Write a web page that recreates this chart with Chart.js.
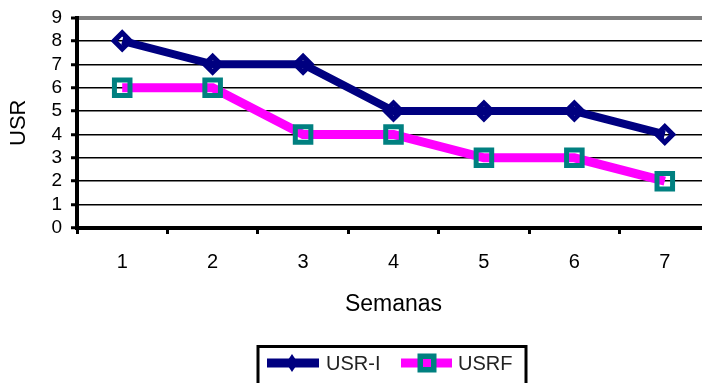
<!DOCTYPE html>
<html>
<head>
<meta charset="utf-8">
<script src="https://cdn.jsdelivr.net/npm/chart.js@4/dist/chart.umd.min.js"></script>
<style>
  html, body { margin: 0; padding: 0; background: #fff; overflow: hidden; }
  #wrap { width: 712px; height: 383px; }
</style>
</head>
<body>
<div id="wrap"><canvas id="chart" width="712" height="383"></canvas></div>
<script>
// Weekly USR values
const semanas = ['1', '2', '3', '4', '5', '6', '7'];
const usrInicial = [8, 7, 7, 5, 5, 5, 4];
const usrFinal = [6, 6, 4, 4, 3, 3, 2];
const yTicks = [0, 1, 2, 3, 4, 5, 6, 7, 8, 9];

const NAVY = '#000080';
const MAGENTA = '#FF00FF';
const TEAL = '#008080';
const FONT = '"Liberation Sans", Arial, sans-serif';

// Boxed legend under the axis title
const boxedLegend = {
  id: 'boxedLegend',
  afterDraw(chart) {
    const ctx = chart.ctx;
    ctx.save();
    ctx.strokeStyle = '#000';
    ctx.lineWidth = 3;
    ctx.strokeRect(258, 346.5, 268, 60);

    const cy = 363;
    // USR-I sample
    ctx.strokeStyle = NAVY;
    ctx.lineWidth = 9;
    ctx.beginPath(); ctx.moveTo(267, cy); ctx.lineTo(319, cy); ctx.stroke();
    ctx.fillStyle = NAVY;
    ctx.beginPath();
    ctx.moveTo(292, cy - 9); ctx.lineTo(298, cy); ctx.lineTo(292, cy + 9); ctx.lineTo(286, cy);
    ctx.closePath(); ctx.fill();

    // USRF sample
    ctx.strokeStyle = MAGENTA;
    ctx.lineWidth = 9;
    ctx.beginPath(); ctx.moveTo(401, cy); ctx.lineTo(452, cy); ctx.stroke();
    ctx.fillStyle = TEAL;
    ctx.fillRect(417.5, cy - 9.5, 19, 19);
    ctx.fillStyle = MAGENTA;
    ctx.fillRect(423, cy - 4, 8, 8);

    ctx.fillStyle = '#222';
    ctx.font = '20px ' + FONT;
    ctx.textBaseline = 'middle';
    ctx.textAlign = 'left';
    ctx.fillText(chart.data.datasets[0].label, 326, cy + 1);
    ctx.fillText(chart.data.datasets[1].label, 458, cy + 1);
    ctx.restore();
  }
};

new Chart(document.getElementById('chart'), {
  type: 'line',
  data: {
    labels: semanas,
    datasets: [
      {
        label: 'USR-I',
        data: usrInicial,
        borderColor: NAVY,
        borderWidth: 8,
        pointStyle: 'rectRot',
        pointRadius: 8,
        pointBorderWidth: 5,
        pointBorderColor: NAVY,
        pointBackgroundColor: 'rgba(0,0,0,0)',
        tension: 0
      },
      {
        label: 'USRF',
        data: usrFinal,
        borderColor: MAGENTA,
        borderWidth: 9,
        pointStyle: 'rect',
        pointRadius: 11,
        pointBorderWidth: 5,
        pointBorderColor: TEAL,
        pointBackgroundColor: 'rgba(0,0,0,0)',
        tension: 0
      }
    ]
  },
  options: {
    responsive: false,
    animation: false,
    events: [],
    // the canvas is a little wider than the page, so the plot frame runs past the right edge
    layout: { autoPadding: false, padding: { left: 0, top: 17.5, right: 2, bottom: 55 } },
    plugins: { legend: { display: false }, tooltip: { enabled: false } },
    scales: {
      x: {
        offset: true,
        grid: {
          offset: true,
          drawOnChartArea: false,
          tickLength: 6,
          tickColor: '#000',
          tickWidth: 3
        },
        border: { color: '#000', width: 4 },
        ticks: {
          color: '#000',
          font: { family: FONT, size: 20, lineHeight: 2.8 },
          padding: 0,
          autoSkip: false,
          maxRotation: 0
        },
        title: {
          display: true,
          text: 'Semanas',
          color: '#000',
          font: { family: FONT, size: 23 },
          padding: { top: 0, bottom: 10 }
        },
        afterFit(scale) {
          scale.height = 100;
          scale.paddingLeft = 0;
          scale.paddingRight = 0;
        }
      },
      y: {
        min: 0,
        max: 9,
        afterBuildTicks(scale) { scale.ticks = yTicks.map(v => ({ value: v })); },
        grid: {
          color: ctx => (ctx.tick && ctx.tick.value === 9) ? '#808080' : '#000',
          lineWidth: ctx => (ctx.tick && ctx.tick.value === 9) ? 4 : 1.5,
          tickLength: 6,
          tickColor: '#000',
          tickWidth: 3
        },
        border: { color: '#000', width: 4 },
        ticks: { color: '#000', font: { family: FONT, size: 19 }, padding: 9, autoSkip: false, stepSize: 1 },
        title: {
          display: true,
          text: 'USR',
          color: '#000',
          font: { family: FONT, size: 22 },
          padding: { top: 6, bottom: 0 }
        },
        afterFit(scale) {
          scale.width = 77;
          scale.paddingTop = 0;
          scale.paddingBottom = 0;
        }
      }
    }
  },
  plugins: [boxedLegend]
});
</script>
</body>
</html>
